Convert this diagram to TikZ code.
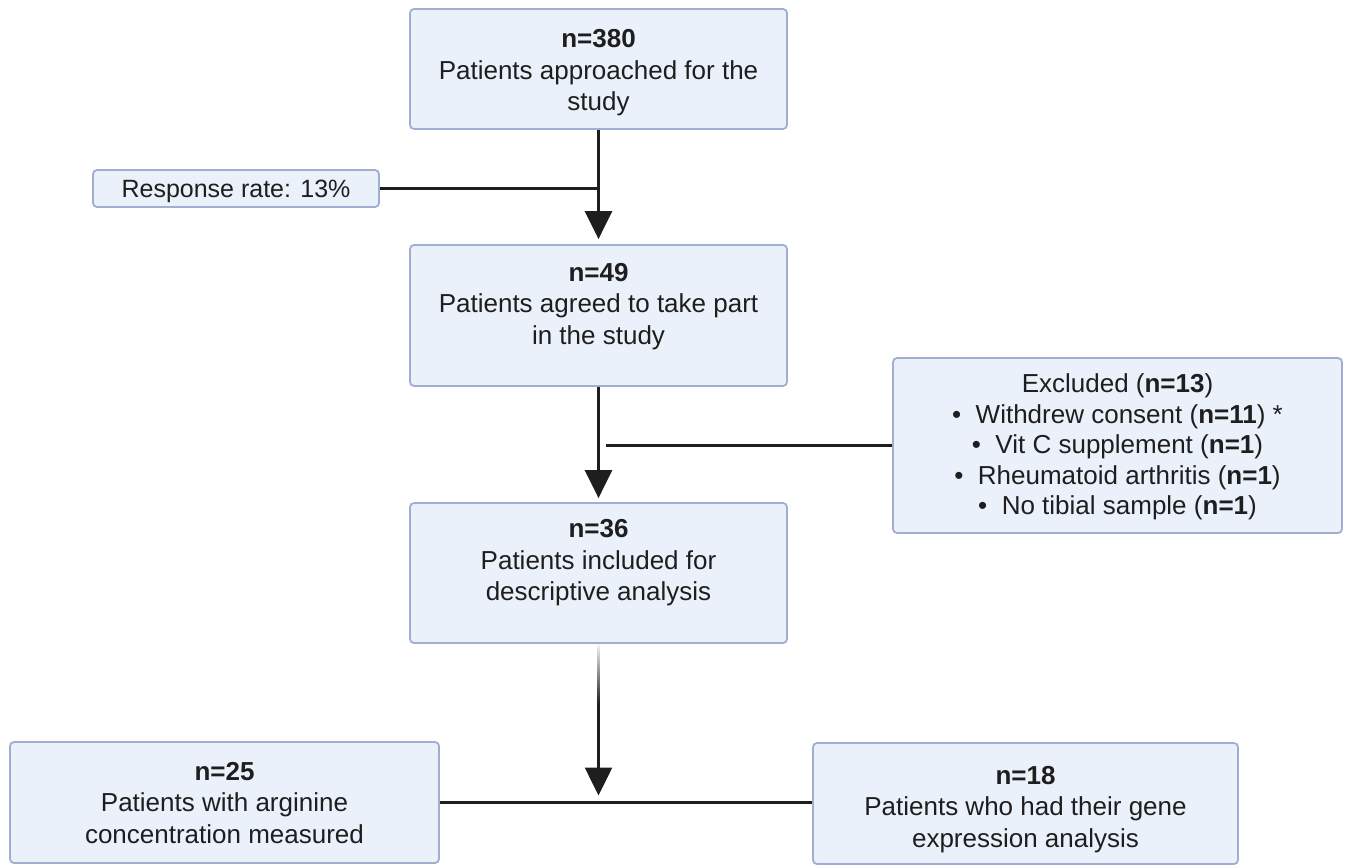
\documentclass[tikz,border=0pt]{standalone}
\usepackage{fontspec}
\setmainfont{Liberation Sans}
\usetikzlibrary{arrows.meta}
\definecolor{boxfill}{RGB}{235,241,251}
\definecolor{boxline}{RGB}{160,174,210}
\definecolor{ink}{RGB}{30,30,30}
% a centred block of lines, raised by #1 while keeping its size for placement
\newcommand{\liftlines}[2]{\raisebox{#1}[\height][\depth]{\begin{tabular}{@{}c@{}}#2\end{tabular}}}
\begin{document}
\begin{tikzpicture}[x=1pt,y=-1pt,
  box/.style={draw=boxline, fill=boxfill, line width=1.8pt, rounded corners=4pt,
    align=center, inner sep=0pt, text=ink, font=\fontsize{26}{31.5}\selectfont},
  flow/.style={draw=ink, line width=2.6pt, -{Triangle[width=27pt,length=28pt]}},
  link/.style={draw=ink, line width=2.6pt}]
\useasboundingbox (0,0) rectangle (1348,867);

% stages of the flow
\node[box, minimum width=377pt, minimum height=120pt] (n380) at (598.5,69)
  {\liftlines{-4pt}{\textbf{n=380}\\Patients approached for the\\study}};
\node[box, minimum width=286pt, minimum height=37pt,
  font=\fontsize{25}{30}\selectfont] (resp) at (236,188.5)
  {\liftlines{-3pt}{Response rate: 13\%}};
\node[box, minimum width=377pt, minimum height=141pt] (n49) at (598.5,315.5)
  {\liftlines{9pt}{\textbf{n=49}\\Patients agreed to take part\\in the study}};
\node[box, minimum width=449pt, minimum height=175pt,
  font=\fontsize{26}{30.5}\selectfont] (excl) at (1117.5,445.5)
  {\liftlines{-2pt}{Excluded (\textbf{n=13})\\
   \textbullet\ \ Withdrew consent (\textbf{n=11}) *\\
   \textbullet\ \ Vit C supplement (\textbf{n=1})\\
   \textbullet\ \ Rheumatoid arthritis (\textbf{n=1})\\
   \textbullet\ \ No tibial sample (\textbf{n=1})}};
\node[box, minimum width=377pt, minimum height=140pt] (n36) at (598.5,573)
  {\liftlines{10pt}{\textbf{n=36}\\Patients included for\\descriptive analysis}};
\node[box, minimum width=429pt, minimum height=121pt] (n25) at (224.5,802.5)
  {\liftlines{-3pt}{\textbf{n=25}\\Patients with arginine\\concentration measured}};
\node[box, minimum width=425pt, minimum height=121pt] (n18) at (1025.5,803.5)
  {\liftlines{-6pt}{\textbf{n=18}\\Patients who had their gene\\expression analysis}};

% connectors
\draw[flow] (n380.south) -- ([yshift=5pt]n49.north);
\draw[link] (resp.east) -- (resp.east -| n380.south);
\draw[flow] (n49.south) -- ([yshift=4pt]n36.north);
\draw[link] (excl.west) -- ([xshift=7pt]excl.west -| n49.south);
\coordinate (split) at (n36.south |- n25.east);
\draw[flow] (n36.south) -- ([yshift=7pt]split);
\shade[top color=black!5, bottom color=ink]
  ([xshift=-1.3pt,yshift=-1pt]n36.south) rectangle ([xshift=1.3pt,yshift=-60pt]n36.south);
\draw[link] (n25.east) -- (n25.east -| n18.west);
\end{tikzpicture}
\end{document}
